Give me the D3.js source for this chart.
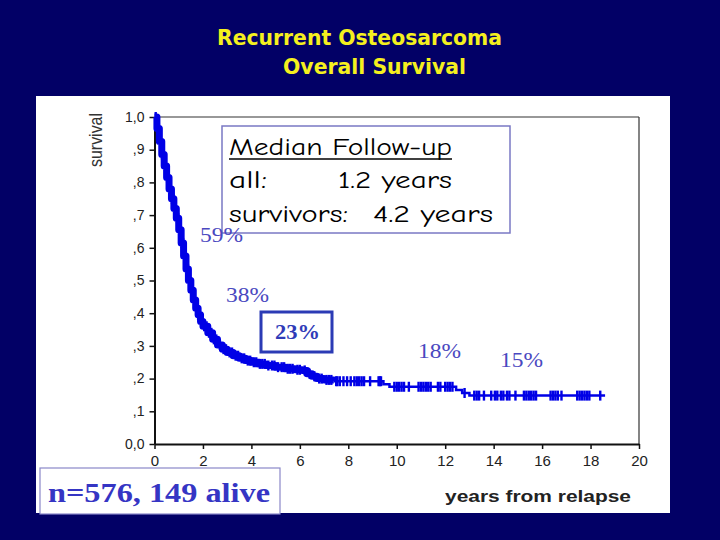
<!DOCTYPE html>
<html><head><meta charset="utf-8">
<script src="https://cdn.jsdelivr.net/npm/d3@7"></script>
<style>html,body{margin:0;padding:0;background:#020066;}svg{display:block;}</style>
</head><body>
<svg id="c" width="720" height="540"></svg>
<script>
// ---- data ----
const titleLines = ["Recurrent Osteosarcoma", "Overall Survival"];
const xTicks = [0, 2, 4, 6, 8, 10, 12, 14, 16, 18, 20];
const yTicks = [0, 0.1, 0.2, 0.3, 0.4, 0.5, 0.6, 0.7, 0.8, 0.9, 1.0];
const yTickLabels = ["0,0", ",1", ",2", ",3", ",4", ",5", ",6", ",7", ",8", ",9", "1,0"];
// Kaplan-Meier step points (years, survival)
const kmTimes = [0, 0.1, 0.2, 0.3, 0.4, 0.5, 0.6, 0.7, 0.8, 0.9, 1.0, 1.1, 1.2, 1.3, 1.4, 1.5, 1.6, 1.7, 1.8, 1.9,
  2.0, 2.2, 2.4, 2.6, 2.8, 3.0, 3.25, 3.5, 3.75, 4.0, 4.3, 4.6, 5.0, 5.4, 5.8, 6.1, 6.3, 6.5, 6.7, 7.0, 7.4,
  9.45, 9.7, 12.45, 12.7, 13.0, 18.6];
const kmSurv = [1.0, 0.965, 0.925, 0.885, 0.85, 0.815, 0.78, 0.75, 0.72, 0.69, 0.655, 0.615, 0.575, 0.535, 0.5, 0.47, 0.44, 0.415, 0.395, 0.375,
  0.36, 0.34, 0.32, 0.303, 0.29, 0.28, 0.27, 0.262, 0.255, 0.25, 0.245, 0.24, 0.235, 0.23, 0.227, 0.225, 0.215, 0.207, 0.2, 0.196, 0.192,
  0.183, 0.175, 0.165, 0.156, 0.148, 0.148];
// censored observations (years)
const censorTimes = [0.05, 0.12, 0.18, 0.25, 0.31, 0.37, 0.44, 0.52, 0.58, 0.65, 0.72, 0.78, 0.85, 0.93, 0.98, 1.05, 1.12, 1.18, 1.25, 1.33,
  1.38, 1.45, 1.52, 1.58, 1.65, 1.73, 1.8, 1.87, 1.95, 2.05, 2.15, 2.25, 2.35, 2.45, 2.55, 2.7, 2.85, 2.95, 3.1, 3.2, 3.35, 3.45, 3.6,
  3.7, 3.85, 3.95, 4.1, 4.2, 4.35, 4.45, 4.55, 4.7, 4.85, 4.95, 5.1, 5.25, 5.35, 5.5, 5.6, 5.7, 5.9, 6.0, 6.2, 6.4, 6.6, 6.8, 6.9, 7.1,
  7.2, 7.3, 7.5, 7.55, 7.65, 7.8, 7.95, 8.1, 8.25, 8.35, 8.45, 8.55, 8.65, 8.9, 9.25, 9.3, 9.35, 9.9, 10.0, 10.1, 10.2, 10.3, 10.5,
  10.9, 11.0, 11.1, 11.2, 11.3, 11.4, 11.7, 11.8, 12.0, 12.1, 12.2, 12.3, 12.8, 13.2, 13.3, 13.4, 13.6, 13.9, 14.05, 14.15, 14.3, 14.4,
  14.55, 14.65, 14.9, 15.25, 15.35, 15.45, 15.55, 15.65, 15.75, 16.35, 16.45, 16.55, 16.65, 16.8, 17.45, 17.55, 17.65, 17.75, 17.85, 17.95, 18.4];
const pctLabels = ["59%", "38%", "23%", "18%", "15%"];
const followUpTitle = "Median Follow-up";
const followUpRows = [["all:", "1.2 years"], ["survivors:", "4.2 years"]];
const nLabel = "n=576, 149 alive";
const yAxisTitle = "survival";
const xAxisTitle = "years from relapse";

// ---- drawing ----
const svg = d3.select("#c");
svg.append("rect").attr("width", 720).attr("height", 540).attr("fill", "#020066");
svg.append("rect").attr("x", 36).attr("y", 96).attr("width", 634).attr("height", 417).attr("fill", "#ffffff");

const comic = "'Comic Sans MS','Comic Neue','DejaVu Sans',sans-serif";
const serif = "'Liberation Serif','Times New Roman',serif";
const arial = "'Liberation Sans',Arial,sans-serif";

// title
const tpos = [[217, 45, 285], [283, 74, 183]];
titleLines.forEach((t, i) => {
  svg.append("text").attr("x", tpos[i][0]).attr("y", tpos[i][1]).text(t)
    .attr("font-family", "'DejaVu Sans',sans-serif").attr("font-weight", "bold").attr("font-size", 22)
    .attr("fill", "#f5f01e").attr("textLength", tpos[i][2]).attr("lengthAdjust", "spacingAndGlyphs");
});

const x = d3.scaleLinear().domain([0, 20]).range([154.5, 639]);
const y = d3.scaleLinear().domain([0, 1]).range([444, 117]);

// frame top & right
svg.append("line").attr("x1", x(0)).attr("x2", x(20)).attr("y1", y(1)).attr("y2", y(1)).attr("stroke", "#333").attr("stroke-width", 1.2);
svg.append("line").attr("x1", x(20)).attr("x2", x(20)).attr("y1", y(1)).attr("y2", y(0)).attr("stroke", "#333").attr("stroke-width", 1.2);

const gx = svg.append("g").attr("transform", `translate(0,${y(0)})`)
  .call(d3.axisBottom(x).tickValues(xTicks).tickSize(5).tickSizeOuter(0).tickPadding(4));
const gy = svg.append("g").attr("transform", `translate(${x(0)},0)`)
  .call(d3.axisLeft(y).tickValues(yTicks).tickFormat((d, i) => yTickLabels[i]).tickSize(5).tickSizeOuter(0).tickPadding(5));
[gx, gy].forEach(g => {
  g.select(".domain").attr("stroke", "#111").attr("stroke-width", 2);
  g.selectAll(".tick line").attr("stroke", "#111").attr("stroke-width", 1.5);
  g.selectAll(".tick text").attr("font-family", arial).attr("font-size", 15).attr("fill", "#222");
});
gy.selectAll(".tick text").attr("font-size", 14).attr("dy", "0.3em");
gx.selectAll(".tick text").attr("dy", "0.85em");

svg.append("text").attr("transform", `translate(102,140) rotate(-90)`).attr("text-anchor", "middle")
  .attr("font-family", arial).attr("font-size", 19).attr("fill", "#333")
  .attr("textLength", 54).attr("lengthAdjust", "spacingAndGlyphs").text(yAxisTitle);
svg.append("text").attr("x", 445).attr("y", 502).attr("font-family", arial).attr("font-weight", "bold")
  .attr("font-size", 17).attr("fill", "#222").attr("textLength", 186).attr("lengthAdjust", "spacingAndGlyphs").text(xAxisTitle);

// KM curve
const km = kmTimes.map((t, i) => [t, kmSurv[i]]);
const survAt = t => { let s = 1; for (const p of km) { if (p[0] <= t) s = p[1]; else break; } return s; };
const line = d3.line().x(d => x(d[0])).y(d => y(d[1])).curve(d3.curveStepAfter);
const early = km.filter(d => d[0] <= 7.4);
svg.append("path").attr("d", line(early)).attr("fill", "none").attr("stroke", "#0000e6").attr("stroke-width", 7).attr("stroke-linejoin", "round");
svg.append("path").attr("d", line(km.filter(d => d[0] >= 7.4))).attr("fill", "none").attr("stroke", "#0000e6").attr("stroke-width", 2.5);
svg.append("g").selectAll("rect").data(censorTimes).join("rect")
  .attr("x", d => x(d) - 1.2).attr("y", d => y(survAt(d)) - 5).attr("width", 2.4).attr("height", 10)
  .attr("fill", "#0000e6");

// follow-up box
svg.append("rect").attr("x", 222).attr("y", 126).attr("width", 288).attr("height", 107)
  .attr("fill", "#fff").attr("stroke", "#7a78c4").attr("stroke-width", 1.5);
svg.append("text").attr("x", 229).attr("y", 155).attr("font-family", comic).attr("font-size", 25)
  .attr("fill", "#000").attr("textLength", 223).attr("lengthAdjust", "spacingAndGlyphs").text(followUpTitle);
svg.append("line").attr("x1", 229).attr("x2", 452).attr("y1", 159).attr("y2", 159).attr("stroke", "#000").attr("stroke-width", 1.5);
const rowY = [188, 222], valX = [338, 373], valW = [114, 120], labW = [38, 119];
followUpRows.forEach((r, i) => {
  svg.append("text").attr("x", 229).attr("y", rowY[i]).attr("font-family", comic).attr("font-size", 25)
    .attr("fill", "#000").attr("textLength", labW[i]).attr("lengthAdjust", "spacingAndGlyphs").text(r[0]);
  svg.append("text").attr("x", valX[i]).attr("y", rowY[i]).attr("font-family", comic).attr("font-size", 25)
    .attr("fill", "#000").attr("textLength", valW[i]).attr("lengthAdjust", "spacingAndGlyphs").text(r[1]);
});

// percentage labels
const pctPos = [[200, 242, false], [226, 302, false], [275, 339, true], [418, 358, false], [500, 367, false]];
svg.append("rect").attr("x", 261).attr("y", 312).attr("width", 71).attr("height", 40)
  .attr("fill", "#fff").attr("stroke", "#2b3bb5").attr("stroke-width", 3);
pctLabels.forEach((p, i) => {
  svg.append("text").attr("x", pctPos[i][0]).attr("y", pctPos[i][1]).text(p)
    .attr("font-family", serif).attr("font-size", 21).attr("font-weight", pctPos[i][2] ? "bold" : "normal")
    .attr("fill", pctPos[i][2] ? "#2f3bb8" : "#4a48c0").attr("textLength", pctPos[i][2] ? 45 : 43).attr("lengthAdjust", "spacingAndGlyphs");
});

// n box
svg.append("rect").attr("x", 40).attr("y", 468).attr("width", 240).attr("height", 46)
  .attr("fill", "#fff").attr("stroke", "#8a88c8").attr("stroke-width", 1.2);
svg.append("text").attr("x", 48).attr("y", 502).attr("font-family", serif).attr("font-weight", "bold")
  .attr("font-size", 27).attr("fill", "#3535c4").attr("textLength", 222).attr("lengthAdjust", "spacingAndGlyphs").text(nLabel);
</script>
</body></html>
